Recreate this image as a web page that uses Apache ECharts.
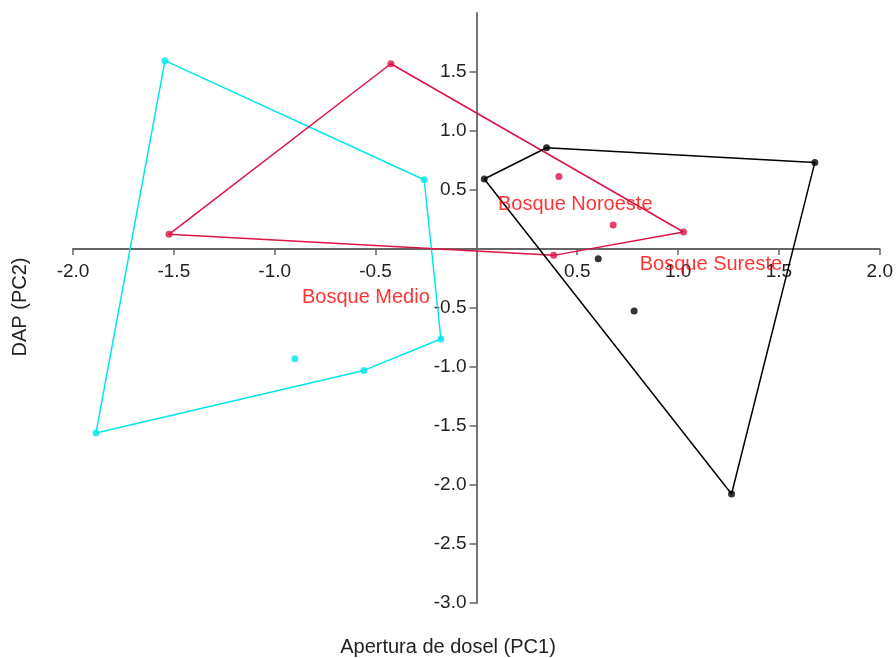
<!DOCTYPE html>
<html>
<head>
<meta charset="utf-8">
<script src="https://cdn.jsdelivr.net/npm/echarts@6/dist/echarts.min.js"></script>
<style>html,body{margin:0;padding:0;background:#fff}#c{width:896px;height:658px}</style>
</head>
<body>
<div id="c"></div>
<script>
// Bosque Medio (cyan)
const medioX = [-1.544, -0.259, -0.176, -0.558, -1.886, -0.900];
const medioY = [1.596, 0.587, -0.763, -1.029, -1.559, -0.930];
const medioHull = [0, 1, 2, 3, 4, 0];
// Bosque Noroeste (crimson)
const noroX = [-0.424, 1.027, 0.383, -1.524, 0.409, 0.678];
const noroY = [1.570, 0.144, -0.054, 0.124, 0.615, 0.203];
const noroHull = [0, 1, 2, 3, 0];
// Bosque Sureste (black)
const surX = [0.039, 0.348, 1.678, 1.265, 0.604, 0.782];
const surY = [0.593, 0.858, 0.734, -2.076, -0.082, -0.525];
const surHull = [0, 1, 2, 3, 0];

const groupLabels = ['Bosque Noroeste', 'Bosque Sureste', 'Bosque Medio'];
const labelX = [0.107, 0.810, -0.865];
const labelY = [0.375, -0.133, -0.410];

const xTicks = [-2.0, -1.5, -1.0, -0.5, 0.5, 1.0, 1.5, 2.0];
const yTicks = [-3.0, -2.5, -2.0, -1.5, -1.0, -0.5, 0.5, 1.0, 1.5];

const xTitle = 'Apertura de dosel (PC1)';
const yTitle = 'DAP (PC2)';

const FONT = '"Liberation Sans", Arial, sans-serif';
const pts = (xs, ys) => xs.map((x, i) => [x, ys[i]]);
const hull = (xs, ys, idx) => idx.map(i => [xs[i], ys[i]]);

const groups = [
  {name: 'Bosque Medio', color: '#00e6ef', xs: medioX, ys: medioY, h: medioHull},
  {name: 'Bosque Noroeste', color: '#dc1446', xs: noroX, ys: noroY, h: noroHull},
  {name: 'Bosque Sureste', color: '#000000', xs: surX, ys: surY, h: surHull}
];

const series = [];
groups.forEach(g => {
  series.push({
    type: 'line', data: hull(g.xs, g.ys, g.h), showSymbol: false, silent: true,
    lineStyle: {color: g.color, width: 1.5}, z: 2, animation: false
  });
  series.push({
    type: 'scatter', data: pts(g.xs, g.ys), symbol: 'circle', symbolSize: 7,
    itemStyle: {color: g.color}, z: 3, animation: false
  });
});
series.push({
  type: 'scatter', symbolSize: 0, z: 4, animation: false,
  data: groupLabels.map((t, i) => ({value: [labelX[i], labelY[i]], name: t})),
  label: {show: true, position: [0, 0], align: 'left', verticalAlign: 'middle',
    formatter: p => p.name, color: '#ff0000', fontSize: 20, fontFamily: FONT}
});

const GL = 73, GR = 16, GT = 13, GB = 55, W = 896, H = 658;
const XMIN = -2, XMAX = 2, YMIN = -3, YMAX = 2;
// offsets that move each axis line onto the other axis's zero
const xOff = -((H - GT - GB) * (0 - YMIN) / (YMAX - YMIN));
const yOff = -((W - GL - GR) * (0 - XMIN) / (XMAX - XMIN));

const chart = echarts.init(document.getElementById('c'));
chart.setOption({
  backgroundColor: '#fff',
  animation: false,
  grid: {left: GL, right: GR, top: GT, bottom: GB, containLabel: false},
  xAxis: {
    type: 'value', min: XMIN, max: XMAX, interval: 0.5, position: 'bottom', offset: xOff,
    splitLine: {show: false},
    axisLine: {onZero: false, lineStyle: {color: '#666', width: 1.8}},
    axisTick: {show: true, length: 6, customValues: xTicks, lineStyle: {color: '#666', width: 1.5}},
    axisLabel: {customValues: xTicks, formatter: v => v.toFixed(1), color: '#222', fontSize: 19, fontFamily: FONT, margin: 13}
  },
  yAxis: {
    type: 'value', min: YMIN, max: YMAX, interval: 0.5, position: 'left', offset: yOff,
    splitLine: {show: false},
    axisLine: {onZero: false, lineStyle: {color: '#666', width: 1.8}},
    axisTick: {show: true, length: 7, customValues: yTicks, lineStyle: {color: '#666', width: 1.5}},
    axisLabel: {customValues: yTicks, formatter: v => v.toFixed(1), color: '#222', fontSize: 19, fontFamily: FONT, margin: 10}
  },
  graphic: [
    {type: 'text', left: 'center', top: 637,
      style: {text: xTitle, fill: '#222', font: '20px ' + FONT}},
    {type: 'text', x: 10, y: 307, rotation: Math.PI / 2,
      style: {text: yTitle, fill: '#222', font: '20px ' + FONT, align: 'center', verticalAlign: 'top'}}
  ],
  series: series
});
</script>
</body>
</html>
